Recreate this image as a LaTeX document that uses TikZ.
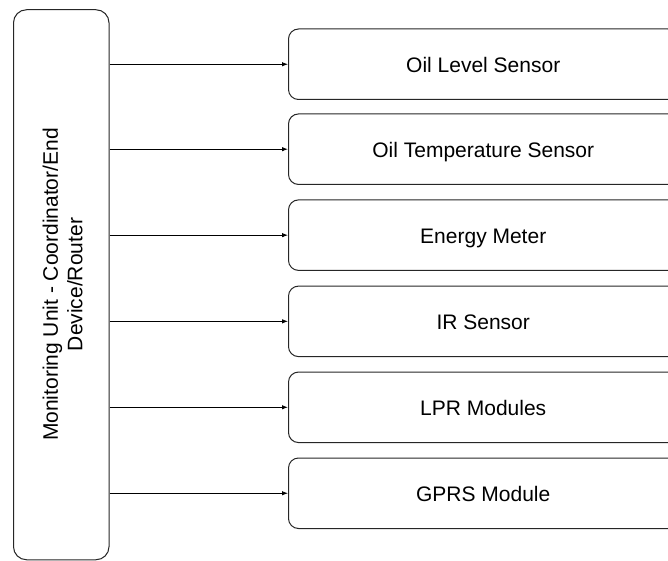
\documentclass[tikz,border=0pt]{standalone}
\usepackage{fontspec}
\setmainfont{Liberation Sans}
\usetikzlibrary{arrows.meta}
\begin{document}
\begin{tikzpicture}[x=1pt,y=-1pt,
  mainbox/.style={draw=black!85, line width=1pt, rounded corners=13pt, minimum width=95.5pt, minimum height=550pt, inner sep=0pt},
  devbox/.style={draw=black!85, line width=1pt, rounded corners=10pt, minimum width=389.5pt, minimum height=70.5pt, inner sep=0pt, text height=17pt, text depth=0pt, font=\fontsize{21}{24}\selectfont},
  conn/.style={draw=black, line width=0.9pt, -{Latex[length=6pt,width=4.5pt]}}]
\useasboundingbox (0,0) rectangle (668,561);
\clip (0,0) rectangle (668,561);
\node[mainbox] (L) at (61.25,284.75) {};
\node[rotate=90, align=center, font=\fontsize{21}{24.5}\selectfont] (Lt) at (62.5,284.5) {Monitoring Unit - Coordinator/End\\Device/Router};
\node[devbox] (b1) at (483.25,64.25) {Oil Level Sensor};
\node[devbox] (b2) at (483.25,149.2) {Oil Temperature Sensor};
\node[devbox] (b3) at (483.25,235.15) {Energy Meter};
\node[devbox] (b4) at (483.25,321.35) {IR Sensor};
\node[devbox] (b5) at (483.25,407.3) {LPR Modules};
\node[devbox] (b6) at (483.25,493.25) {GPRS Module};
\foreach \b in {b1,b2,b3,b4,b5,b6}
  \draw[conn] (L.east |- \b.west) -- (\b.west);
\end{tikzpicture}
\end{document}
